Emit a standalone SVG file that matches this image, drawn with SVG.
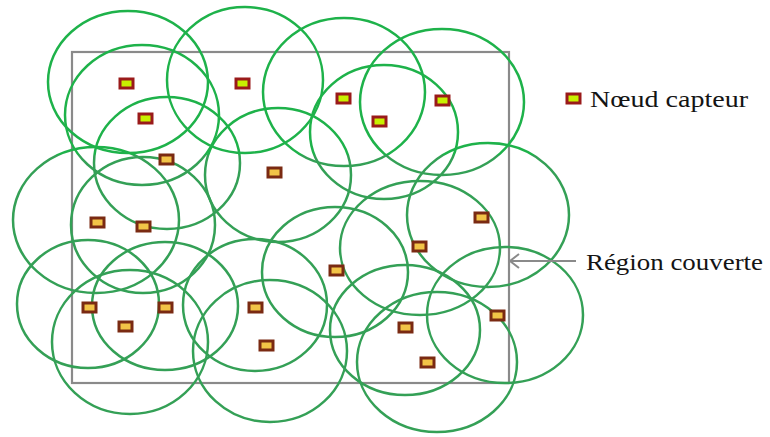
<svg xmlns="http://www.w3.org/2000/svg" width="770" height="437" viewBox="0 0 770 437">
<defs>
<linearGradient id="cg" gradientUnits="userSpaceOnUse" x1="0" y1="0" x2="0" y2="437">
<stop offset="0" stop-color="#1eb24a"/>
<stop offset="0.355" stop-color="#1eb24a"/>
<stop offset="0.355" stop-color="#34a056"/>
<stop offset="1" stop-color="#34a056"/>
</linearGradient>
<marker id="ah" markerWidth="12" markerHeight="16" refX="10" refY="8" orient="auto" markerUnits="userSpaceOnUse">
<path d="M1,1 L10,8 L1,15" fill="none" stroke="#8a8a8a" stroke-width="2"/>
</marker>
</defs>
<style>
.cov ellipse{fill:none;stroke:url(#cg);stroke-width:2.5}
.a rect{fill:#c8f000;stroke:#9a1a1a;stroke-width:3}
.b rect{fill:#f2c447;stroke:#7a2a12;stroke-width:3}
.lbl{font-family:"Liberation Serif","Times New Roman",serif;font-size:24px;fill:#141414}
</style>
<rect id="region" x="72" y="52" width="437" height="331" fill="none" stroke="#8a8a8a" stroke-width="2.2"/>
<g id="coverage" class="cov">
<ellipse cx="128" cy="82" rx="80" ry="71"/>
<ellipse cx="142" cy="115" rx="77" ry="70"/>
<ellipse cx="245" cy="80" rx="78" ry="73"/>
<ellipse cx="344" cy="92" rx="81" ry="74"/>
<ellipse cx="384" cy="132" rx="74" ry="67"/>
<ellipse cx="442" cy="102" rx="82" ry="73"/>
<ellipse cx="167" cy="163" rx="73" ry="66"/>
<ellipse cx="278" cy="175" rx="73" ry="67"/>
<ellipse cx="96" cy="220" rx="83" ry="73"/>
<ellipse cx="143" cy="225" rx="72" ry="68"/>
<ellipse cx="88" cy="304" rx="71" ry="64"/>
<ellipse cx="130" cy="342" rx="78" ry="72"/>
<ellipse cx="165" cy="306" rx="73" ry="64"/>
<ellipse cx="255" cy="305" rx="72" ry="66"/>
<ellipse cx="270" cy="351" rx="77" ry="71"/>
<ellipse cx="335" cy="272" rx="73" ry="65"/>
<ellipse cx="420" cy="248" rx="80" ry="67"/>
<ellipse cx="488" cy="215" rx="81" ry="72"/>
<ellipse cx="405" cy="330" rx="75" ry="65"/>
<ellipse cx="505" cy="315" rx="78" ry="68"/>
<ellipse cx="437" cy="362" rx="80" ry="70"/>
</g>
<g id="connectors">
<line x1="576" y1="261" x2="510" y2="261" stroke="#8a8a8a" stroke-width="2" marker-end="url(#ah)"/>
</g>
<g id="n1" class="a"><rect x="120" y="79" width="13" height="9"/></g>
<g id="n2" class="a"><rect x="139" y="114" width="13" height="9"/></g>
<g id="n3" class="a"><rect x="236" y="79" width="13" height="9"/></g>
<g id="n4" class="a"><rect x="337" y="94" width="13" height="9"/></g>
<g id="n5" class="a"><rect x="373" y="117" width="13" height="9"/></g>
<g id="n6" class="a"><rect x="436" y="96" width="13" height="9"/></g>
<g id="n7" class="b"><rect x="160" y="155" width="13" height="9"/></g>
<g id="n8" class="b"><rect x="268" y="168" width="13" height="9"/></g>
<g id="n9" class="b"><rect x="91" y="218" width="13" height="9"/></g>
<g id="n10" class="b"><rect x="137" y="222" width="13" height="9"/></g>
<g id="n11" class="b"><rect x="83" y="303" width="13" height="9"/></g>
<g id="n12" class="b"><rect x="119" y="322" width="13" height="9"/></g>
<g id="n13" class="b"><rect x="159" y="303" width="13" height="9"/></g>
<g id="n14" class="b"><rect x="249" y="303" width="13" height="9"/></g>
<g id="n15" class="b"><rect x="260" y="341" width="13" height="9"/></g>
<g id="n16" class="b"><rect x="330" y="266" width="13" height="9"/></g>
<g id="n17" class="b"><rect x="413" y="242" width="13" height="9"/></g>
<g id="n18" class="b"><rect x="475" y="213" width="13" height="9"/></g>
<g id="n19" class="b"><rect x="399" y="323" width="13" height="9"/></g>
<g id="n20" class="b"><rect x="491" y="311" width="13" height="9"/></g>
<g id="n21" class="b"><rect x="421" y="358" width="13" height="9"/></g>
<g id="legend-node" class="a"><rect x="567" y="94" width="13" height="9"/></g>
<text class="lbl" x="590" y="107" textLength="158" lengthAdjust="spacingAndGlyphs">Nœud capteur</text>
<text class="lbl" x="586" y="270" textLength="177" lengthAdjust="spacingAndGlyphs">Région couverte</text>
</svg>
